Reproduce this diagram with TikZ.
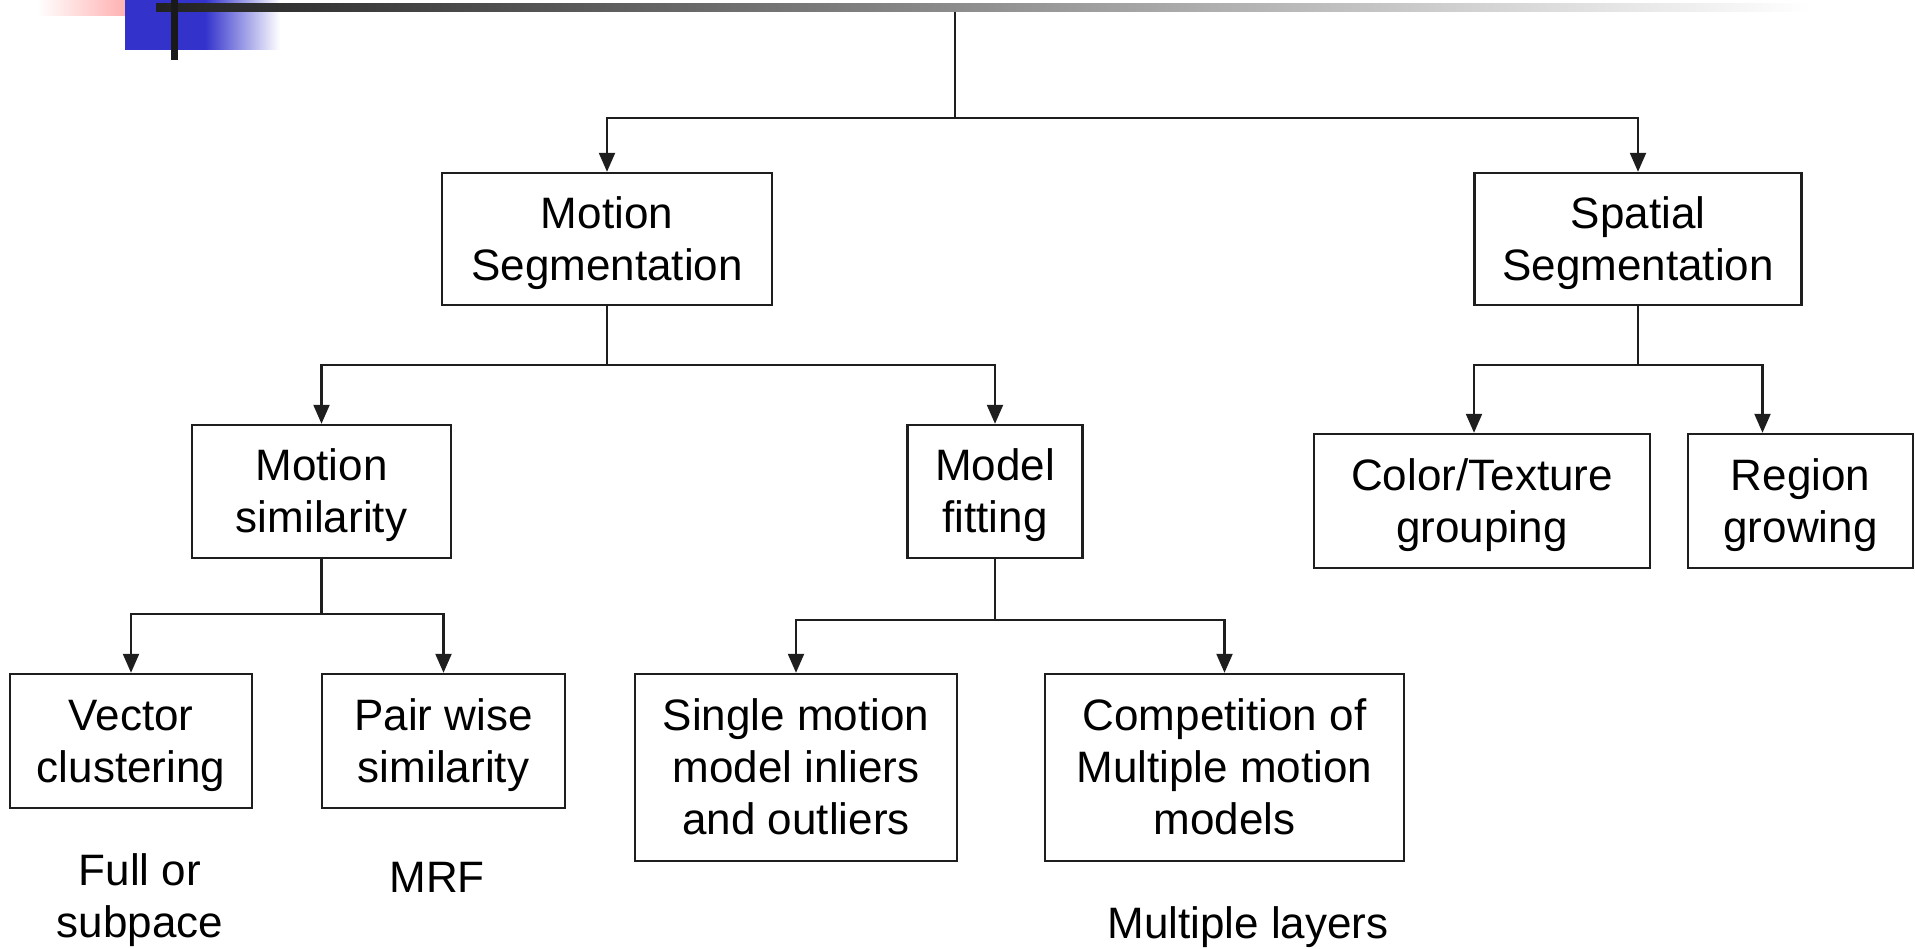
\documentclass[tikz,border=0pt]{standalone}
\usepackage{fontspec}
\setmainfont{Liberation Sans}
\usetikzlibrary{arrows.meta}
\definecolor{decoblue}{RGB}{51,51,204}
\definecolor{decopink}{RGB}{255,150,150}
\definecolor{linecol}{RGB}{30,30,30}
\newcommand{\boxtext}[1]{\raisebox{-5pt}[\height][\depth]{\begin{tabular}{@{}c@{}}#1\end{tabular}}}
\tikzset{
  box/.style={draw=linecol, line width=2.4pt, inner sep=0pt,
    font=\fontsize{44}{52}\selectfont},
  lbl/.style={inner sep=0pt, align=center, font=\fontsize{44}{52}\selectfont},
  conn/.style={draw=linecol, line width=2.2pt},
  arr/.style={conn, -{Triangle[width=16pt,length=19pt]}}
}
\begin{document}
\begin{tikzpicture}[x=1pt,y=-1pt]
\useasboundingbox (0,0) rectangle (1915,949);
% decoration top-left
\shade[left color=white, right color=decopink] (37,0) rectangle (156,16);
\fill[decoblue] (125,0) rectangle (205,50);
\shade[left color=decoblue, right color=white] (205,0) rectangle (280,50);
\shade[left color=black!87, right color=white] (156,4) rectangle (1810,12);
\fill[black!90] (171,0) rectangle (178,60);
\coordinate (root) at (955,12);

% level 1
\node[box, minimum width=330pt, minimum height=132pt] (ms) at (607,239) {\boxtext{Motion\\Segmentation}};
\node[box, minimum width=327pt, minimum height=132pt] (ss) at (1638,239) {\boxtext{Spatial\\Segmentation}};
% level 2
\node[box, minimum width=259pt, minimum height=133pt] (msim) at (321.5,491.5) {\boxtext{Motion\\similarity}};
\node[box, minimum width=175pt, minimum height=133pt] (mf) at (995,491.5) {\boxtext{Model\\fitting}};
\node[box, minimum width=336pt, minimum height=134pt] (ct) at (1482,501) {\boxtext{Color/Texture\\grouping}};
\node[box, minimum width=225pt, minimum height=134pt] (rg) at (1800.5,501) {\boxtext{Region\\growing}};
% level 3
\node[box, minimum width=242pt, minimum height=134pt] (vc) at (131,741) {\boxtext{Vector\\clustering}};
\node[box, minimum width=243pt, minimum height=134pt] (pw) at (443.5,741) {\boxtext{Pair wise\\similarity}};
\node[box, minimum width=322pt, minimum height=187pt] (sm) at (796,767.5) {\boxtext{Single motion\\model inliers\\and outliers}};
\node[box, minimum width=359pt, minimum height=187pt] (co) at (1224.5,767.5) {\boxtext{Competition of\\Multiple motion\\models}};
% free labels
\node[lbl] (full) at (140,900) {Full or\\subpace};
\node[lbl] (mrf) at (437,877) {MRF};
\node[lbl] (ml) at (1248,927) {Multiple layers};

% connectors
\draw[conn] (root) -- (955,118);
\draw[arr] (955,118) -| (ms.north);
\draw[arr] (955,118) -| (ss.north);

\draw[conn] (ms.south) -- ++(0,59) coordinate (msj);
\draw[arr] (msj) -| (msim.north);
\draw[arr] (msj) -| (mf.north);

\draw[conn] (ss.south) -- ++(0,59) coordinate (ssj);
\draw[arr] (ssj) -| ([xshift=-8pt]ct.north);
\draw[arr] (ssj) -| ([xshift=-38pt]rg.north);

\draw[conn] (msim.south) -- ++(0,55) coordinate (msimj);
\draw[arr] (msimj) -| (vc.north);
\draw[arr] (msimj) -| (pw.north);

\draw[conn] (mf.south) -- ++(0,61) coordinate (mfj);
\draw[arr] (mfj) -| (sm.north);
\draw[arr] (mfj) -| (co.north);
\end{tikzpicture}
\end{document}
